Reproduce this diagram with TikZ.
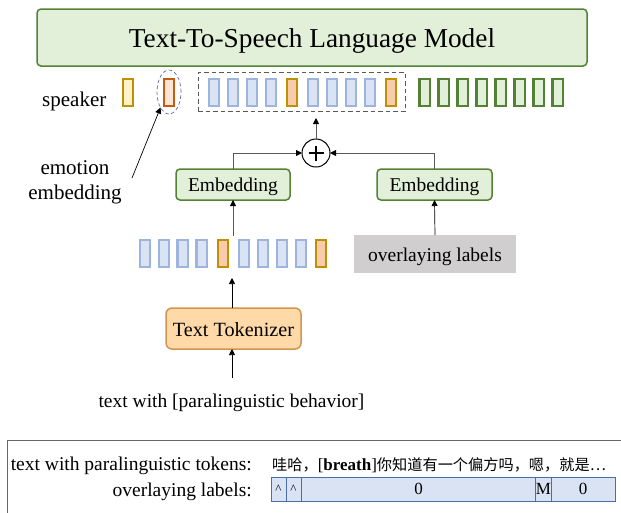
\documentclass[tikz,border=0pt]{standalone}
\usepackage{fontspec}
\setmainfont{Liberation Serif}
\newfontfamily\cjkfont{Noto Sans CJK SC}
\usetikzlibrary{arrows.meta,shapes.geometric,calc}
\definecolor{bluefill}{HTML}{DAE3F3}
\definecolor{blueline}{HTML}{9DB4DE}
\definecolor{tokfill}{HTML}{F8CBAD}
\definecolor{goldline}{HTML}{BF9000}
\definecolor{yelfill}{HTML}{FFF2CC}
\definecolor{emofill}{HTML}{FBE5D6}
\definecolor{emoline}{HTML}{C55A11}
\definecolor{grnfill}{HTML}{E2F0D9}
\definecolor{grnline}{HTML}{548235}
\definecolor{orgfill}{HTML}{FFD9A8}
\definecolor{orgline}{HTML}{D29550}
\definecolor{greyfill}{HTML}{D0CECE}
\definecolor{tabline}{HTML}{4A6FA8}
\tikzset{
  cell/.style={draw,line width=2.2pt,minimum width=10.2pt,minimum height=27.2pt,inner sep=0pt,outer sep=0pt},
  bluecell/.style={cell,draw=blueline,fill=bluefill},
  tokcell/.style={cell,draw=goldline,fill=tokfill},
  yelcell/.style={cell,draw=goldline,fill=yelfill},
  emocell/.style={cell,draw=emoline,fill=emofill},
  grncell/.style={cell,draw=grnline,fill=grnfill},
  greenbox/.style={draw=grnline,fill=grnfill,rounded corners=4pt,line width=1.5pt,inner sep=0pt,outer sep=0pt},
  conn/.style={-{Triangle[length=6pt,width=6pt,color=black]},line width=0.8pt,draw=black!65},
  plainconn/.style={-{Triangle[length=6pt,width=6pt]},line width=0.7pt,draw=black},
  lab/.style={font=\fontsize{19.5}{23}\selectfont,inner sep=0pt},
  tab/.style={draw=tabline,fill=bluefill,line width=0.9pt,minimum height=24pt,inner sep=0pt,outer sep=0pt,font=\fontsize{17}{20}\selectfont},
}
\begin{document}
\begin{tikzpicture}[x=1pt,y=-1pt]
\useasboundingbox (0,0) rectangle (621,512);
\clip (0,0) rectangle (621,512);
% top model
\node[greenbox,minimum width=550pt,minimum height=57pt] (model) at (312,37.5) {};
\node[inner sep=0pt,font=\fontsize{27.3}{32}\selectfont] (title) at (312,40.5) {Text-To-Speech Language Model};
% speaker / emotion
\node[lab,anchor=west,font=\fontsize{21}{25}\selectfont] (spk) at (42,101.5) {speaker};
\node[yelcell] (yc) at (128,92.5) {};
\node[emocell] (ec) at (169,92.5) {};
\node[draw=black!60!blue!60,dash pattern=on 3.5pt off 2.5pt,ellipse,line width=0.7pt,minimum width=24pt,minimum height=44pt,inner sep=0pt,outer sep=0pt] (ell) at (169,92) {};
\node[lab,align=center,font=\fontsize{21}{25}\selectfont] (emo) at (75,182.5) {emotion\\embedding};
% dashed group
\node[draw=black!65,dash pattern=on 4.5pt off 3pt,line width=1pt,minimum width=207pt,minimum height=39pt,inner sep=0pt,outer sep=0pt] (grp) at (301.5,91.5) {};
\foreach \n/\x/\s in {1/214/bluecell,2/233/bluecell,3/252/bluecell,4/271/bluecell,5/292/tokcell,6/313/bluecell,7/332/bluecell,8/351/bluecell,9/370/bluecell,10/391/tokcell}
  \node[\s] (a\n) at (\x,92.5) {};
% green cells
\foreach \n/\x in {1/424.5,2/443.5,3/462.5,4/481.5,5/500.5,6/519.5,7/538.5,8/557.5}
  \node[grncell] (g\n) at (\x,92.5) {};
% plus
\node[circle,draw=black,fill=white,line width=1pt,minimum size=28pt,inner sep=0pt,outer sep=0pt] (plus) at (316,153) {};
\draw[line width=1.1pt] ([xshift=-7.5pt]plus.center) -- ([xshift=7.5pt]plus.center) ([yshift=-7.5pt]plus.center) -- ([yshift=7.5pt]plus.center);
% embeddings
\node[greenbox,minimum width=114pt,minimum height=31pt] (emb1) at (233,184.5) {};
\node[greenbox,minimum width=115pt,minimum height=31pt] (emb2) at (434.5,184.5) {};
\node[lab] (emb1t) at (233,187) {Embedding};
\node[lab] (emb2t) at (434.5,187) {Embedding};
% token row
\foreach \n/\x/\s in {1/145/bluecell,2/164/bluecell,3/182.5/bluecell,4/201.5/bluecell,5/223/tokcell,6/244/bluecell,7/263/bluecell,8/282/bluecell,9/301/bluecell,10/321/tokcell}
  \node[\s] (b\n) at (\x,253.5) {};
% grey labels
\node[fill=greyfill,minimum width=162pt,minimum height=38pt,inner sep=0pt,outer sep=0pt] (ol) at (435,254) {};
\node[lab] (olt) at (435,257) {overlaying labels};
% tokenizer
\node[draw=orgline,fill=orgfill,rounded corners=6pt,line width=1.5pt,minimum width=135pt,minimum height=41pt,inner sep=0pt,outer sep=0pt] (tok) at (233.5,328.5) {};
\node[lab,font=\fontsize{20.2}{24}\selectfont] (tokt) at (233.5,329.5) {Text Tokenizer};
\node[lab] (src) at (231.5,402.5) {text with [paralinguistic behavior]};
% connectors
\coordinate (s1) at (316,118);
\coordinate (s2) at (132,178);
\coordinate (s3) at (232,278);
\coordinate (s4) at (232,378);
\coordinate (s5) at (233,236);
\coordinate (em1t) at (233,169);
\coordinate (em2t) at (434.5,169);
\draw[conn] (plus.north) -- (s1);
\draw[conn] (em1t) |- (plus.west);
\draw[conn] (em2t) |- (plus.east);
\draw[conn] (s5) -- (emb1.south);
\draw[plainconn] (ol.north) -- (emb2.south);
\draw[plainconn] (tok.north -| s3) -- (s3);
\draw[plainconn] (s4) -- (tok.south -| s4);
\draw[plainconn] (s2) -- (ell.south west);
% bottom table
\node[draw=black!60,line width=0.9pt,minimum width=640pt,minimum height=90pt,inner sep=0pt,outer sep=0pt,anchor=north west] (frame) at (7,440) {};
\node[lab,anchor=east] (t1) at (252,466) {text with paralinguistic tokens:};
\node[lab,anchor=east] (t2) at (252,492) {overlaying labels:};
\node[anchor=west,inner sep=0pt,font=\fontsize{17}{20}\selectfont] (t3) at (272,465.5) {{\cjkfont\fontsize{15.2}{20}\selectfont 哇哈，}[\textbf{breath}]{\cjkfont\fontsize{15.2}{20}\selectfont 你知道有一个偏方吗，嗯，就是…}};
\node[tab,minimum width=15pt,font=\fontsize{13}{14}\selectfont] (c1) at (278.5,489) {\^{}};
\node[tab,minimum width=15pt,font=\fontsize{13}{14}\selectfont] (c2) at (293.5,489) {\^{}};
\node[tab,minimum width=235pt] (c3) at (418.5,489) {0};
\node[tab,minimum width=15pt] (c4) at (543.5,489) {M};
\node[tab,minimum width=64pt] (c5) at (583,489) {0};
\end{tikzpicture}
\end{document}
